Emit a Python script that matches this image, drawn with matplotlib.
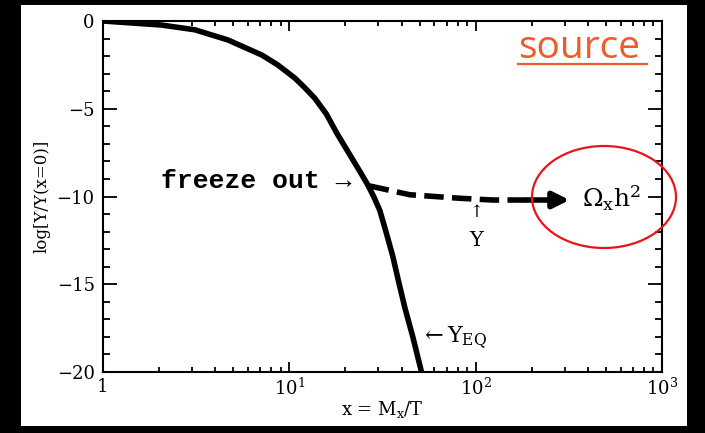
import numpy as np
import matplotlib
matplotlib.use('Agg')
import matplotlib.pyplot as plt
from matplotlib.patches import Rectangle, Ellipse
from matplotlib.lines import Line2D
from matplotlib.ticker import FixedLocator, NullFormatter, MultipleLocator

plt.rcParams['font.family'] = 'DejaVu Serif'
plt.rcParams['mathtext.fontset'] = 'dejavuserif'

# equilibrium abundance Y_EQ (solid)
x_eq = [1.0, 2.06, 3.11, 4.68, 7.12, 8.66, 10.7, 12.1, 13.7, 15.8, 18.0,
        21.9, 24.0, 26.4, 28.5, 30.6, 33.0, 35.9, 38.5, 41.6, 46.0, 51.2]
y_eq = [0.0, -0.23, -0.5, -1.08, -1.94, -2.5, -3.25, -3.8, -4.4, -5.3, -6.4,
        -7.9, -8.6, -9.35, -10.05, -10.8, -12.0, -13.4, -14.8, -16.3, -18.0, -20.0]

# actual abundance Y after freeze out (dashed, ends in an arrow)
x_fo = [27.0, 29.8, 44.3, 82.0, 123.0, 188.0, 319.0]
y_fo = [-9.4, -9.5, -9.9, -10.1, -10.2, -10.2, -10.2]

x_ticks = [1, 10, 100, 1000]
x_ticklabels = ['1', r'$10^1$', r'$10^2$', r'$10^3$']
y_ticks = [0, -5, -10, -15, -20]

fig = plt.figure(figsize=(7.05, 4.33), dpi=100, facecolor='black')
fig.patches.append(Rectangle((21 / 705, 7 / 433), 666 / 705, 421 / 433,
                             transform=fig.transFigure, facecolor='white',
                             edgecolor='none', zorder=-10))

ax = fig.add_axes([103 / 705, 61 / 433, 559 / 705, 351 / 433])
ax.set_facecolor('none')
ax.set_xscale('log')
ax.set_xlim(1, 1000)
ax.set_ylim(-20, 0)

ax.plot(x_eq, y_eq, color='black', lw=4, solid_capstyle='butt',
        solid_joinstyle='round')
ax.plot(x_fo[:-1], y_fo[:-1], color='black', lw=4, dashes=(3.5, 1.5))
ax.annotate('', xy=(x_fo[-1], y_fo[-1]), xytext=(x_fo[-2], y_fo[-2]),
            arrowprops=dict(arrowstyle='-|>', lw=4, color='black',
                            mutation_scale=24, shrinkA=0, shrinkB=0))

# axes, ticks
for s in ax.spines.values():
    s.set_linewidth(1.5)
ax.xaxis.set_major_locator(FixedLocator(x_ticks))
ax.set_xticklabels(x_ticklabels)
ax.xaxis.set_minor_formatter(NullFormatter())
ax.yaxis.set_major_locator(FixedLocator(y_ticks))
ax.yaxis.set_minor_locator(MultipleLocator(1))
ax.tick_params(which='both', direction='in', top=True, right=True, width=1.3,
               labelsize=13)
ax.tick_params(axis='x', which='major', length=7, pad=4)
ax.tick_params(axis='x', which='minor', length=3.5)
ax.tick_params(axis='y', which='major', length=10, pad=6)
ax.tick_params(axis='y', which='minor', length=5)

ax.set_xlabel(r'x = M$_{\rm x}$/T', fontsize=13, labelpad=0)
ax.set_ylabel('log[Y/Y(x=0)]', fontsize=12, labelpad=4)

# annotations
ax.text(21.6, -9.1, 'freeze out →', fontsize=19, fontweight='bold',
        family='Liberation Mono', ha='right', va='center')
ax.text(101, -10.9, '↑', fontsize=12, ha='center', va='center')
ax.text(101, -12.5, 'Y', fontsize=15, ha='center', va='center')
ax.text(50.1, -18.1, r'$\leftarrow\mathrm{Y}_{\mathrm{EQ}}$', fontsize=16,
        ha='left', va='center')
ax.text(370, -10.1, r'$\Omega_{\rm x}\mathrm{h}^2$', fontsize=18,
        ha='left', va='center')

# highlight ring and link label
fig.patches.append(Ellipse((604 / 705, 1 - 197 / 433), 144 / 705, 102 / 433,
                           transform=fig.transFigure, fill=False,
                           edgecolor='#e8141b', lw=1.6, zorder=5))
fig.text(518 / 705, 1 - 58 / 433, 'source', fontsize=28, family='Open Sans',
         color='#f05a28', ha='left', va='baseline')
fig.lines.append(Line2D([518 / 705, 647 / 705], [1 - 64 / 433] * 2,
                        transform=fig.transFigure, color='#f05a28', lw=1.6))

fig.savefig('out.png', dpi=100, facecolor='black')
